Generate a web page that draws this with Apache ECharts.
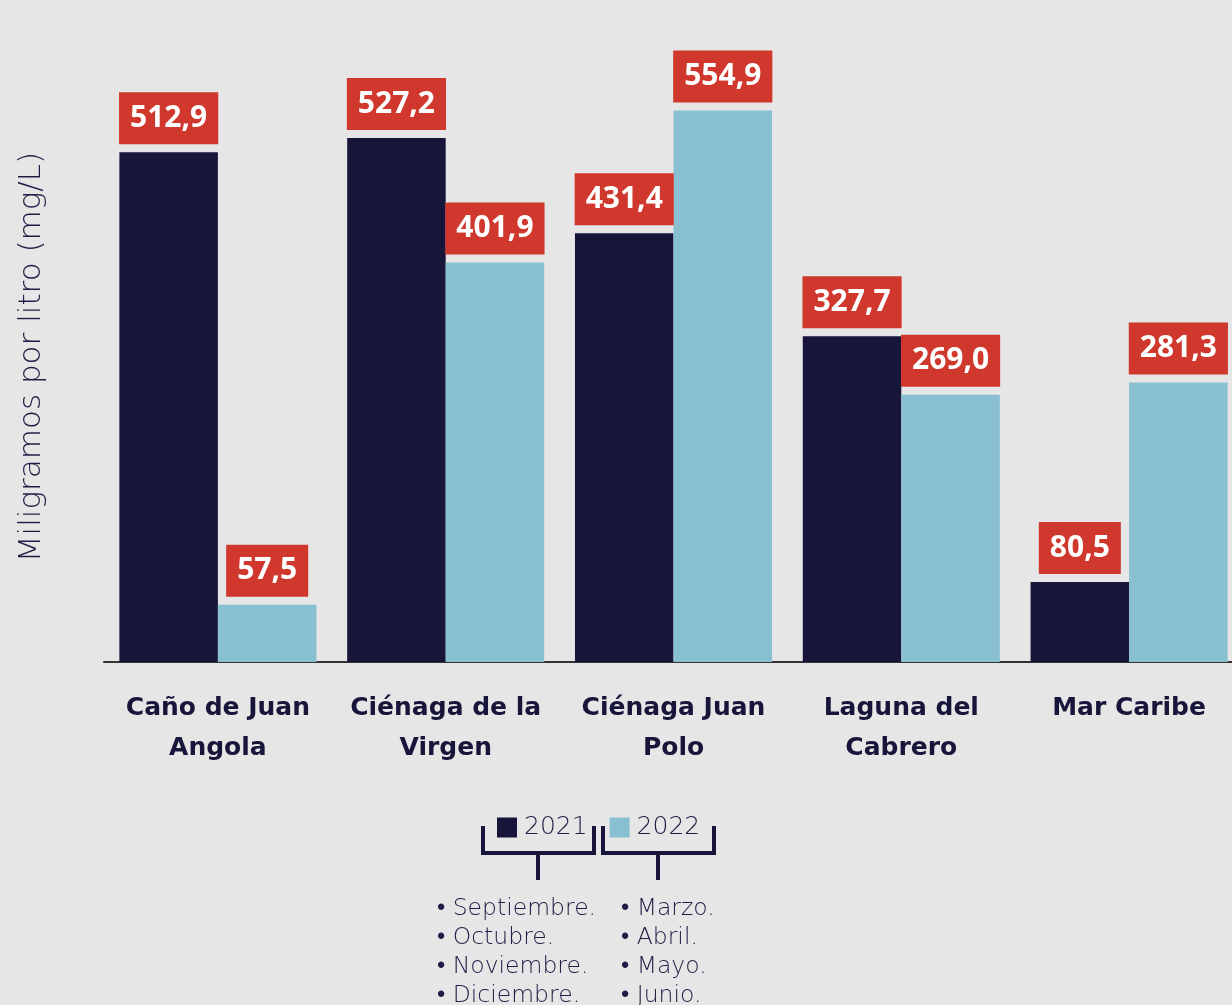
<!DOCTYPE html>
<html>
<head>
<meta charset="utf-8">
<script src="https://cdn.jsdelivr.net/npm/echarts@6/dist/echarts.min.js"></script>
<style>
  html, body { margin: 0; padding: 0; background: #e6e6e6; overflow: hidden; }
  #chart { width: 1243px; height: 1005px; }
</style>
</head>
<body>
<div id="chart"></div>
<script>
// Sitios de muestreo
var categories = ['Caño de Juan\nAngola', 'Ciénaga de la\nVirgen', 'Ciénaga Juan\nPolo', 'Laguna del\nCabrero', 'Mar Caribe'];
var values2021 = [512.9, 527.2, 431.4, 327.7, 80.5];
var values2022 = [57.5, 401.9, 554.9, 269.0, 281.3];
var months2021 = ['• Septiembre.', '• Octubre.', '• Noviembre.', '• Diciembre.'];
var months2022 = ['• Marzo.', '• Abril.', '• Mayo.', '• Junio.'];

var navy = '#17153a';
var textNavy = '#1f1d45';
var lightBlue = '#88c0d1';
var red = '#d0382d';
var font = '"Noto Sans", sans-serif';
var wide = '"DejaVu Sans", sans-serif';

var chart = echarts.init(document.getElementById('chart'));

function fmt(p) {
  return p.value.toFixed(1).replace('.', ',');
}

var valueLabel = {
  show: true,
  position: 'top',
  distance: 8,
  formatter: fmt,
  backgroundColor: red,
  color: '#fff',
  fontFamily: font,
  fontWeight: 'bold',
  fontSize: 30,
  lineHeight: 36,
  padding: [8, 11]
};

// Brackets under the legend
function bracket(x1, x2, y1, y2) {
  return {
    type: 'polyline',
    shape: { points: [[x1, y1], [x1, y2], [x2, y2], [x2, y1]] },
    style: { stroke: navy, lineWidth: 4, fill: null }
  };
}

var graphics = [
  {
    type: 'text',
    x: 32,
    y: 357,
    rotation: Math.PI / 2,
    style: {
      text: 'Miligramos por litro (mg/L)',
      font: '200 31px ' + wide,
      fill: textNavy,
      align: 'center',
      verticalAlign: 'middle'
    }
  },
  bracket(483, 594, 826, 853),
  { type: 'line', shape: { x1: 538, y1: 853, x2: 538, y2: 880 }, style: { stroke: navy, lineWidth: 4 } },
  bracket(603, 714, 826, 853),
  { type: 'line', shape: { x1: 658, y1: 853, x2: 658, y2: 880 }, style: { stroke: navy, lineWidth: 4 } }
];

months2021.forEach(function (m, i) {
  graphics.push({
    type: 'text', x: 437, y: 909 + i * 29,
    style: { text: m, font: '200 23.5px ' + wide, fill: textNavy, verticalAlign: 'middle' }
  });
});
months2022.forEach(function (m, i) {
  graphics.push({
    type: 'text', x: 621, y: 909 + i * 29,
    style: { text: m, font: '200 23.5px ' + wide, fill: textNavy, verticalAlign: 'middle' }
  });
});

var option = {
  backgroundColor: '#e6e6e6',
  animation: false,
  legend: {
    left: 492,
    top: 810,
    icon: 'rect',
    itemWidth: 20,
    itemHeight: 20,
    itemGap: 22,
    textStyle: { fontFamily: wide, fontWeight: 200, fontSize: 25, color: textNavy, padding: [0, 0, 0, 2] },
    data: ['2021', '2022']
  },
  grid: { left: 104, top: 16, width: 1139, height: 646 },
  xAxis: {
    type: 'category',
    data: categories,
    axisLine: { lineStyle: { color: '#333', width: 2 } },
    axisTick: { show: false },
    axisLabel: {
      interval: 0,
      margin: 26,
      fontFamily: wide,
      fontWeight: 'bold',
      fontSize: 25,
      lineHeight: 40,
      color: navy
    }
  },
  yAxis: {
    type: 'value',
    min: 0,
    max: 650,
    show: false,
    splitLine: { show: false }
  },
  series: [
    {
      name: '2021',
      type: 'bar',
      data: values2021,
      barGap: '0%',
      barCategoryGap: '13.5%',
      itemStyle: { color: navy },
      label: valueLabel
    },
    {
      name: '2022',
      type: 'bar',
      data: values2022,
      barGap: '0%',
      barCategoryGap: '13.5%',
      itemStyle: { color: lightBlue },
      label: valueLabel
    }
  ],
  graphic: graphics
};

chart.setOption(option);
</script>
</body>
</html>
